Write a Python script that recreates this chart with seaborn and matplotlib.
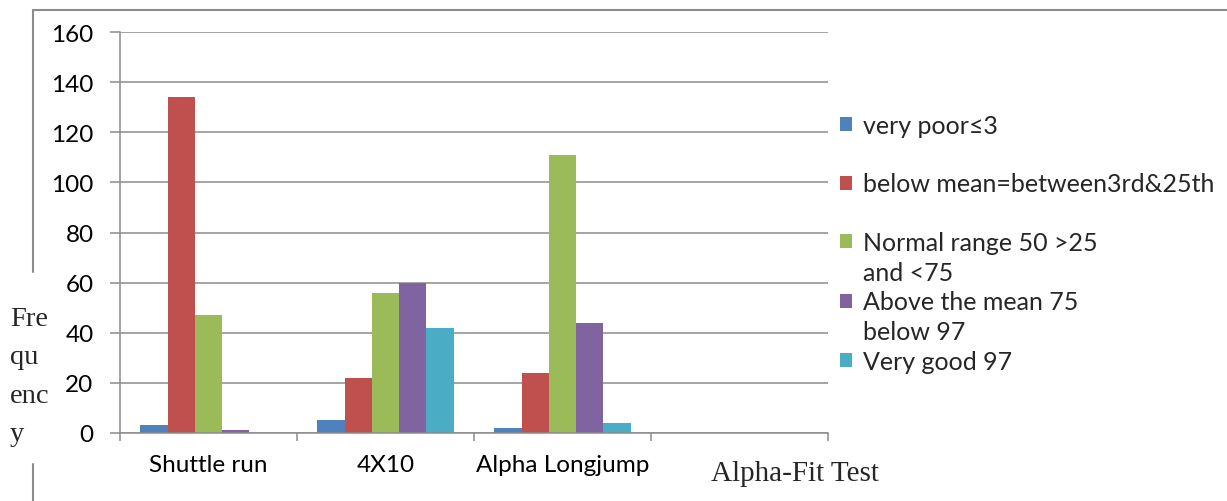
import pandas as pd
import numpy as np
import seaborn as sns
import matplotlib.pyplot as plt
from matplotlib.patches import Patch
from matplotlib.lines import Line2D
from matplotlib.ticker import FixedLocator

# chart values
tests = ["Shuttle run", "4X10", "Alpha Longjump"]
levels = ["very poor≤3", "below mean=between3rd&25th", "Normal range 50 >25 and <75",
          "Above the mean 75 below 97", "Very good 97"]
# legend text as wrapped in the original (first line next to the swatch)
legend_lines = [["very poor≤3"], ["below mean=between3rd&25th"],
                ["Normal range 50 >25", "and <75"], ["Above the mean 75", "below 97"],
                ["Very good 97"]]
very_poor = [3, 5, 2]
below_mean = [134, 22, 24]
normal = [47, 56, 111]
above_mean = [1, 60, 44]
very_good = [0, 42, 4]
colors = ["#4F81BD", "#C0504D", "#9BBB59", "#8064A2", "#4BACC6"]

rows = []
for lvl, vals in zip(levels, [very_poor, below_mean, normal, above_mean, very_good]):
    for t, v in zip(tests, vals):
        rows.append({"test": t, "level": lvl, "freq": v})
df = pd.DataFrame(rows)

sns.set_theme(style="white")
plt.rcParams["font.family"] = ["Lato", "DejaVu Sans"]

fig = plt.figure(figsize=(12.27, 5.02), dpi=100)
ax = fig.add_axes([120 / 1227, 68 / 502, 708 / 1227, 401 / 502])

order = tests + [" "]
sns.barplot(data=df, x="test", y="freq", hue="level", order=order, hue_order=levels,
            palette=colors, saturation=1, width=0.77, gap=0, linewidth=0,
            legend=False, ax=ax)

gray = "#8c8c8c"
fs = 17.5
ax.set_xlim(-0.5, 3.5)
ax.set_ylim(0, 160)
ax.set_yticks(np.arange(0, 161, 20))
ax.yaxis.grid(True, color=gray, linewidth=1.1)
ax.set_axisbelow(True)
for s in ["top", "right"]:
    ax.spines[s].set_visible(False)
for s in ["left", "bottom"]:
    ax.spines[s].set_color(gray)
    ax.spines[s].set_linewidth(1.1)

ax.set_xticks(range(3))
ax.set_xticklabels(tests)
ax.xaxis.set_minor_locator(FixedLocator([-0.5, 0.5, 1.5, 2.5, 3.5]))
ax.tick_params(axis="x", which="major", length=0, pad=15, labelsize=fs, colors="black")
ax.tick_params(axis="x", which="minor", length=6, width=1.1, color=gray, bottom=True)
ax.tick_params(axis="y", length=7, width=1.1, color=gray, pad=12, labelsize=fs,
               labelcolor="black", left=True)
ax.set_xlabel("")
ax.set_ylabel("")

# axis titles in serif, as in the source document
fig.text(795 / 1227, 1 - 474 / 502, "Alpha-Fit Test", family=["Liberation Serif"],
         fontsize=21, ha="center", va="center")
fig.text(10 / 1227, 1 - 377 / 502, "Fre\nqu\nenc\ny", family=["Liberation Serif"],
         fontsize=20.5, ha="left", va="center", linespacing=1.7)

# outer frame
fig.add_artist(Line2D([33 / 1227, 1], [1 - 11 / 502] * 2, color=gray, lw=1.5))
fig.add_artist(Line2D([33 / 1227] * 2, [1 - 11 / 502, 1 - 273 / 502], color=gray, lw=1.5))
fig.add_artist(Line2D([33 / 1227] * 2, [1 - 465 / 502, 0], color=gray, lw=1.5))

# legend: wrapped lines get a blank swatch
handles, labels = [], []
for c, lines in zip(colors, legend_lines):
    for i, line in enumerate(lines):
        handles.append(Patch(facecolor=c if i == 0 else "none", edgecolor="none"))
        labels.append(line)

lfs = 18
leg_kw = dict(frameon=False, fontsize=lfs, handlelength=0.48, handleheight=0.48,
              handletextpad=0.45, borderpad=0, borderaxespad=0, loc="upper left",
              bbox_transform=fig.transFigure)
leg1 = ax.legend(handles[:2], labels[:2], bbox_to_anchor=(840 / 1227, 1 - 115 / 502),
                 labelspacing=1.42, **leg_kw)
ax.add_artist(leg1)
leg2 = ax.legend(handles[2:], labels[2:], bbox_to_anchor=(840 / 1227, 1 - 232 / 502),
                 labelspacing=0.27, **leg_kw)

fig.savefig("out.png", dpi=100)
